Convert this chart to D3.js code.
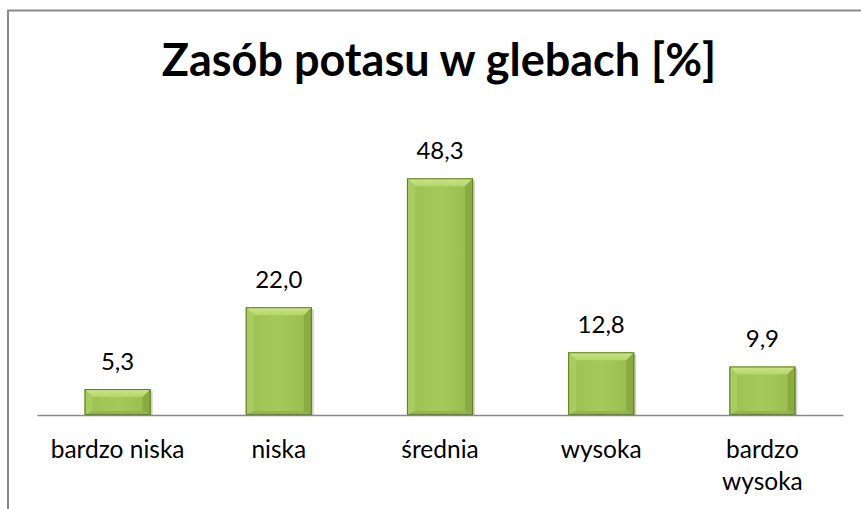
<!DOCTYPE html>
<html>
<head>
<meta charset="utf-8">
<script src="https://cdn.jsdelivr.net/npm/d3@7"></script>
<style>
  html, body { margin: 0; padding: 0; background: #fff; }
  svg { display: block; font-family: Lato, "Open Sans", sans-serif; }
</style>
</head>
<body>
<svg id="chart" width="861" height="509"></svg>
<script>
const title = "Zasób potasu w glebach [%]";
const categories = ["bardzo niska", "niska", "średnia", "wysoka", "bardzo wysoka"];
const values = [5.3, 22.0, 48.3, 12.8, 9.9];

const svg = d3.select("#chart");
const width = 861;
const margin = { top: 121, left: 37, right: 18, bottom: 415 };

// chart frame (runs off the right and bottom of the picture)
svg.append("path")
    .attr("d", "M8,520 V10.5 H870")
    .attr("fill", "none")
    .attr("stroke", "#8a8a8a")
    .attr("stroke-width", 2);

// title
svg.append("text")
    .attr("x", 439)
    .attr("y", 76)
    .attr("text-anchor", "middle")
    .attr("font-size", 45)
    .attr("font-weight", "bold")
    .attr("fill", "#000")
    .text(title);

// scales
const x = d3.scaleBand()
    .domain(categories)
    .range([margin.left, width - margin.right])
    .paddingInner(0.59)
    .paddingOuter(0.295);

const y = d3.scaleLinear()
    .domain([0, 60])
    .range([margin.bottom, margin.top]);

// gradients
const defs = svg.append("defs");
const face = defs.append("linearGradient").attr("id", "face")
    .attr("x1", 0).attr("y1", 0).attr("x2", 1).attr("y2", 0);
face.append("stop").attr("offset", "0%").attr("stop-color", "#9cc052");
face.append("stop").attr("offset", "50%").attr("stop-color", "#a6c95b");
face.append("stop").attr("offset", "100%").attr("stop-color", "#98bb4e");

const topBev = defs.append("linearGradient").attr("id", "topbev")
    .attr("x1", 0).attr("y1", 0).attr("x2", 0).attr("y2", 1);
topBev.append("stop").attr("offset", "0%").attr("stop-color", "#cde68a");
topBev.append("stop").attr("offset", "100%").attr("stop-color", "#b3d56a");

const bev = 8;
const bars = svg.append("g").selectAll("g")
    .data(values)
    .join("g");

bars.each(function(d, i) {
    const g = d3.select(this);
    const x0 = x(categories[i]);
    const x1 = x0 + x.bandwidth();
    const y0 = y(d);
    const y1 = y(0);
    const b = Math.min(bev, (y1 - y0) / 2);
    // shadow
    g.append("rect")
        .attr("x", x0 + 2).attr("y", y0 + 2)
        .attr("width", x1 - x0).attr("height", y1 - y0 - 2)
        .attr("fill", "rgba(0,0,0,0.18)");
    // body
    g.append("rect")
        .attr("x", x0).attr("y", y0)
        .attr("width", x1 - x0).attr("height", y1 - y0)
        .attr("fill", "url(#face)");
    // top bevel
    g.append("polygon")
        .attr("points", [[x0, y0], [x1, y0], [x1 - b, y0 + b], [x0 + b, y0 + b]].join(" "))
        .attr("fill", "url(#topbev)");
    // left bevel
    g.append("polygon")
        .attr("points", [[x0, y0], [x0 + b, y0 + b], [x0 + b, y1 - b / 2], [x0, y1]].join(" "))
        .attr("fill", "#a9cc60");
    // right bevel
    g.append("polygon")
        .attr("points", [[x1, y0], [x1, y1], [x1 - b, y1 - b / 2], [x1 - b, y0 + b]].join(" "))
        .attr("fill", "#89ab40");
    // bottom bevel
    g.append("polygon")
        .attr("points", [[x0, y1], [x0 + b, y1 - b / 2], [x1 - b, y1 - b / 2], [x1, y1]].join(" "))
        .attr("fill", "#93b54a");
    // outline
    g.append("rect")
        .attr("x", x0 + 0.5).attr("y", y0 + 0.5)
        .attr("width", x1 - x0 - 1).attr("height", y1 - y0 - 1)
        .attr("fill", "none")
        .attr("stroke", "#5f7d24")
        .attr("stroke-width", 1);
});

// value labels
svg.append("g").selectAll("text")
    .data(values)
    .join("text")
    .attr("x", (d, i) => x(categories[i]) + x.bandwidth() / 2)
    .attr("y", d => y(d) - 19)
    .attr("text-anchor", "middle")
    .attr("font-size", 24)
    .attr("fill", "#000")
    .text(d => d.toFixed(1).replace(".", ","));

// x axis
const xAxis = svg.append("g")
    .attr("transform", `translate(0,${y(0)})`)
    .call(d3.axisBottom(x).tickSize(0).tickSizeOuter(0).tickFormat(""));
xAxis.select(".domain").attr("stroke", "#898989").attr("stroke-width", 1.5);

// category labels, wrapped like the original
const wrapped = { "bardzo wysoka": ["bardzo", "wysoka"] };
const labels = svg.append("g").selectAll("text")
    .data(categories)
    .join("text")
    .attr("x", d => x(d) + x.bandwidth() / 2)
    .attr("y", 458)
    .attr("text-anchor", "middle")
    .attr("font-size", 24.5)
    .attr("fill", "#000");
labels.each(function(d) {
    const lines = wrapped[d] || [d];
    d3.select(this).selectAll("tspan")
        .data(lines)
        .join("tspan")
        .attr("x", x(d) + x.bandwidth() / 2)
        .attr("dy", (l, j) => j === 0 ? 0 : 32)
        .text(l => l);
});
</script>
</body>
</html>
